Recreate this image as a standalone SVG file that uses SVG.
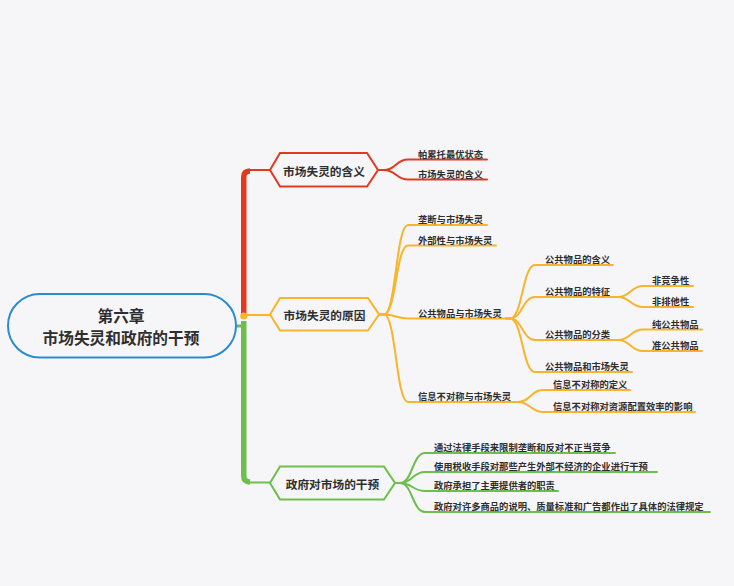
<svg xmlns="http://www.w3.org/2000/svg" width="734" height="586" viewBox="0 0 734 586">
<style>
text{font-family:"Noto Sans CJK SC","Noto Sans",sans-serif;fill:#2e2e2e;font-weight:bold;dominant-baseline:central}
.root{font-size:15.7px;text-anchor:middle}
.main{font-size:11.7px;text-anchor:middle}
.sub{font-size:9.3px}
.c{fill:none;stroke-width:2;stroke-linecap:round;stroke-linejoin:round}
.r{stroke:#e23a1f}.o{stroke:#f8b52b}.g{stroke:#6cbf4c}
.trunk{fill:none;stroke-width:5.5}
.hex{fill:#f6f6f9;stroke-width:2}
</style>
<rect width="734" height="586" fill="#f6f6f9"/>
<g id="connectors">
<path class="trunk r" d="M243.75,318 V177 Q243.75,171.2 250,171"/>
<path class="c r" d="M248,170 H270"/>
<path class="trunk g" d="M243.75,321 V476 Q243.75,481.8 250,482"/>
<path class="c g" d="M248,482.5 H270"/>
<path class="c g" style="stroke-width:3" d="M236,326 H244"/>
<circle cx="243.8" cy="316" r="3.6" fill="#f8b52b"/>
<path class="c o" d="M244,315 H270"/>
<path class="c r" d="M378,170 H384 C396,170 396,159.5 408,159.5 H487"/>
<path class="c r" d="M378,170 H384 C396,170 396,179.5 408,179.5 H487"/>
<path class="c o" d="M379,314.5 H384 C396,314.5 396,225 408,225 H487"/>
<path class="c o" d="M379,314.5 H384 C396,314.5 396,245.5 408,245.5 H496"/>
<path class="c o" d="M379,314.5 H384 C396,314.5 396,318.5 408,318.5 H506"/>
<path class="c o" d="M379,314.5 H384 C396,314.5 396,402 408,402 H514"/>
<path class="c o" d="M506,318.5 H510 C522.5,318.5 522.5,265 535,265 H613"/>
<path class="c o" d="M506,318.5 H510 C522.5,318.5 522.5,297 535,297 H614"/>
<path class="c o" d="M506,318.5 H510 C522.5,318.5 522.5,340 535,340 H614"/>
<path class="c o" d="M506,318.5 H510 C522.5,318.5 522.5,372 535,372 H632"/>
<path class="c o" d="M614,297 H618 C630.5,297 630.5,286 643,286 H693"/>
<path class="c o" d="M614,297 H618 C630.5,297 630.5,307 643,307 H693"/>
<path class="c o" d="M614,340 H618 C630.5,340 630.5,329.5 643,329.5 H702"/>
<path class="c o" d="M614,340 H618 C630.5,340 630.5,351 643,351 H702"/>
<path class="c o" d="M514,402 H518 C530.5,402 530.5,390 543,390 H630"/>
<path class="c o" d="M514,402 H518 C530.5,402 530.5,412 543,412 H695"/>
<path class="c g" d="M395,483 H400 C412.5,483 412.5,453 425,453 H615"/>
<path class="c g" d="M395,483 H400 C412.5,483 412.5,472 425,472 H657"/>
<path class="c g" d="M395,483 H400 C412.5,483 412.5,491 425,491 H558"/>
<path class="c g" d="M395,483 H400 C412.5,483 412.5,512 425,512 H710"/>
</g>
<g id="root">
<rect x="8" y="294" width="228" height="63.5" rx="31.75" fill="#f6f6f9" stroke="#2a8bd0" stroke-width="2"/>
<text class="root" x="121" y="315">第六章</text>
<text class="root" x="121" y="337">市场失灵和政府的干预</text>
</g>
<g id="b1">
<polygon class="hex r" points="270,170 280,153 367,153 378,170 367,186.5 280,186.5"/>
<text class="main" x="324" y="170">市场失灵的含义</text>
</g>
<g id="b2">
<polygon class="hex o" points="270,314.5 280,298 368,298 379,314.5 368,330.5 280,330.5"/>
<text class="main" x="324.5" y="314.5">市场失灵的原因</text>
</g>
<g id="b3">
<polygon class="hex g" points="270,483 280,466.5 384,466.5 395,483 384,499.5 280,499.5"/>
<text class="main" x="332.5" y="483">政府对市场的干预</text>
</g>
<g id="a1"><text class="sub" x="418" y="153.5">帕累托最优状态</text></g>
<g id="a2"><text class="sub" x="418" y="173.5">市场失灵的含义</text></g>
<g id="b2-1"><text class="sub" x="418" y="219">垄断与市场失灵</text></g>
<g id="b2-2"><text class="sub" x="418" y="239.5">外部性与市场失灵</text></g>
<g id="b2-3"><text class="sub" x="418" y="312.5">公共物品与市场失灵</text></g>
<g id="b2-4"><text class="sub" x="418" y="396">信息不对称与市场失灵</text></g>
<g id="c1"><text class="sub" x="545" y="259">公共物品的含义</text></g>
<g id="c2"><text class="sub" x="545" y="291">公共物品的特征</text></g>
<g id="c3"><text class="sub" x="545" y="334">公共物品的分类</text></g>
<g id="c4"><text class="sub" x="545" y="366">公共物品和市场失灵</text></g>
<g id="d1"><text class="sub" x="652" y="280">非竞争性</text></g>
<g id="d2"><text class="sub" x="652" y="301">非排他性</text></g>
<g id="d3"><text class="sub" x="652" y="323.5">纯公共物品</text></g>
<g id="d4"><text class="sub" x="652" y="345">准公共物品</text></g>
<g id="e1"><text class="sub" x="553" y="384">信息不对称的定义</text></g>
<g id="e2"><text class="sub" x="553" y="406">信息不对称对资源配置效率的影响</text></g>
<g id="f1"><text class="sub" x="434" y="447">通过法律手段来限制垄断和反对不正当竞争</text></g>
<g id="f2"><text class="sub" x="434" y="466">使用税收手段对那些产生外部不经济的企业进行干预</text></g>
<g id="f3"><text class="sub" x="434" y="485">政府承担了主要提供者的职责</text></g>
<g id="f4"><text class="sub" x="434" y="506">政府对许多商品的说明、质量标准和广告都作出了具体的法律规定</text></g>
</svg>
